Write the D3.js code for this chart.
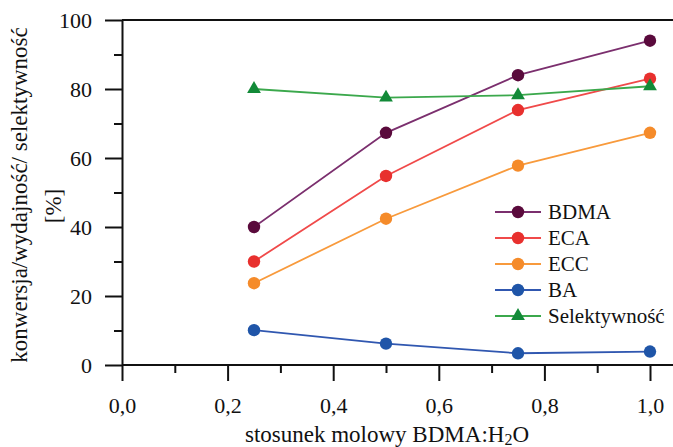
<!DOCTYPE html>
<html>
<head>
<meta charset="utf-8">
<script src="https://cdn.jsdelivr.net/npm/d3@7"></script>
<style>
  body { margin: 0; background: #fff; }
  svg { display: block; }
  .axis path, .axis line { stroke: #111; stroke-width: 2; }
</style>
</head>
<body>
<div id="chart-area"></div>
<script>
// data
var ratios = [0.25, 0.5, 0.75, 1.0];
var bdma = [40, 67.3, 84, 94];
var eca = [30, 54.8, 73.9, 83];
var ecc = [23.7, 42.4, 57.8, 67.3];
var ba = [10.1, 6.2, 3.4, 3.9];
var selekt = [80, 77.5, 78.2, 80.8];
var seriesNames = ["BDMA", "ECA", "ECC", "BA", "Selektywność"];
var xTicks = [0, 0.2, 0.4, 0.6, 0.8, 1.0];
var yTicks = [0, 20, 40, 60, 80, 100];

var FONT = "'Liberation Serif', 'Times New Roman', serif";

var series = [
    { name: seriesNames[0], values: bdma, line: "#7b2f6e", fill: "#5a0a3c", shape: "circle" },
    { name: seriesNames[1], values: eca, line: "#f04a4a", fill: "#e8302e", shape: "circle" },
    { name: seriesNames[2], values: ecc, line: "#f89a3c", fill: "#f58b2a", shape: "circle" },
    { name: seriesNames[3], values: ba, line: "#3057b0", fill: "#1f55a8", shape: "circle" },
    { name: seriesNames[4], values: selekt, line: "#3ba84c", fill: "#128a38", shape: "triangle" }
];

var margin = { left: 122, right: 23, top: 20, bottom: 82 };
var width = 673 - margin.left - margin.right,
    height = 447 - margin.top - margin.bottom;

var svg = d3.select("#chart-area")
    .append("svg")
        .attr("width", 673)
        .attr("height", 447);

var g = svg.append("g")
    .attr("transform", "translate(" + margin.left + "," + margin.top + ")");

var x = d3.scaleLinear().domain([0, 1]).range([0, 528]);
var y = d3.scaleLinear().domain([0, 100]).range([height, 0]);

var fmt = function(d){ return d3.format(".1f")(d).replace(".", ","); };

// minor ticks
g.append("g")
    .attr("class", "axis")
    .attr("transform", "translate(0," + height + ")")
    .call(d3.axisBottom(x).tickValues([0.1, 0.3, 0.5, 0.7, 0.9]).tickSize(8).tickFormat(""))
    .select(".domain").remove();

g.append("g")
    .attr("class", "axis")
    .call(d3.axisLeft(y).tickValues([10, 30, 50, 70, 90]).tickSize(8).tickFormat(""))
    .select(".domain").remove();

// X Axis
var xAxis = g.append("g")
    .attr("class", "axis")
    .attr("transform", "translate(0," + height + ")")
    .call(d3.axisBottom(x).tickValues(xTicks).tickSize(16).tickPadding(16).tickSizeOuter(0).tickFormat(fmt));
xAxis.select(".domain").attr("d", "M0,0H" + (673 - margin.left));

// Y Axis
var yAxis = g.append("g")
    .attr("class", "axis")
    .call(d3.axisLeft(y).tickValues(yTicks).tickSize(17).tickPadding(13).tickSizeOuter(0));

g.selectAll(".axis text")
    .style("font-family", FONT)
    .style("font-size", "22px")
    .attr("fill", "#111");

// top frame
g.append("line")
    .attr("x1", 0).attr("x2", 673 - margin.left)
    .attr("y1", 0).attr("y2", 0)
    .attr("stroke", "#111").attr("stroke-width", 2);

// X Label
g.append("text")
    .attr("x", 265)
    .attr("y", height + 77)
    .attr("text-anchor", "middle")
    .style("font-family", FONT)
    .style("font-size", "23px")
    .attr("fill", "#111")
    .html("stosunek molowy BDMA:H<tspan dy='3' font-size='16px'>2</tspan><tspan dy='-3'>O</tspan>");

// Y Label
var yl = svg.append("text")
    .attr("transform", "translate(27,195) rotate(-90)")
    .attr("text-anchor", "middle")
    .style("font-family", FONT)
    .style("font-size", "23px")
    .attr("fill", "#111");
yl.append("tspan").attr("x", 0).attr("y", 0).text("konwersja/wydajność/ selektywność");
yl.append("tspan").attr("x", -11).attr("y", 34).text("[%]");

var line = d3.line()
    .x(function(d, i){ return x(ratios[i]); })
    .y(function(d){ return y(d); });

var tri = d3.symbol().type(d3.symbolTriangle).size(82);

function drawMarker(sel, s) {
    if (s.shape === "circle") {
        sel.append("circle").attr("r", 6.2).attr("fill", s.fill);
    } else {
        sel.append("path").attr("d", tri).attr("fill", s.fill);
    }
}

series.forEach(function(s){
    g.append("path")
        .datum(s.values)
        .attr("fill", "none")
        .attr("stroke", s.line)
        .attr("stroke-width", 1.8)
        .attr("d", line);
    s.values.forEach(function(v, i){
        var m = g.append("g")
            .attr("transform", "translate(" + x(ratios[i]) + "," + y(v) + ")");
        drawMarker(m, s);
    });
});

// Legend
var legend = svg.append("g").attr("transform", "translate(495,212)");
series.forEach(function(s, i){
    var row = legend.append("g").attr("transform", "translate(0," + (i * 26) + ")");
    row.append("line")
        .attr("x1", 0).attr("x2", 46)
        .attr("stroke", s.line).attr("stroke-width", 1.8);
    var m = row.append("g").attr("transform", "translate(23,0)");
    drawMarker(m, s);
    row.append("text")
        .attr("x", 53)
        .attr("y", 7)
        .style("font-family", FONT)
        .style("font-size", "21px")
        .attr("fill", "#111")
        .text(s.name);
});
</script>
</body>
</html>
